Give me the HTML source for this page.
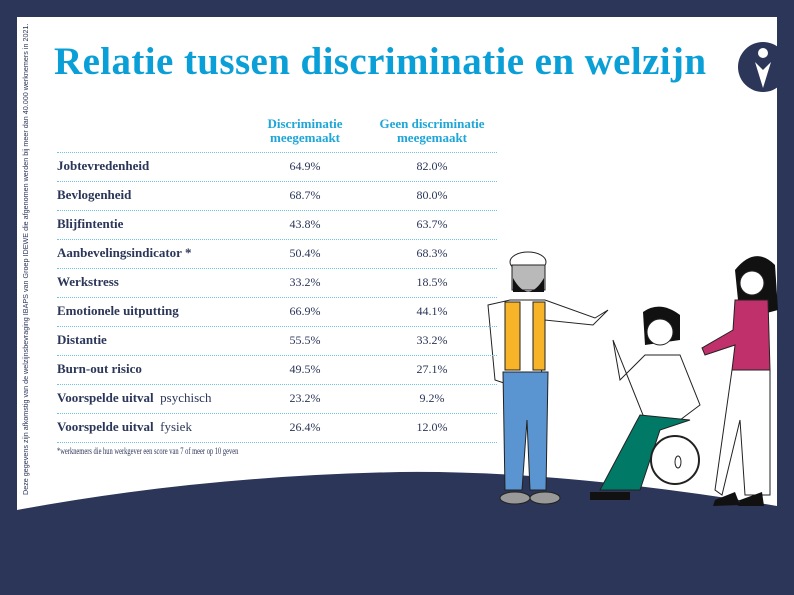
<!DOCTYPE html>
<html><head><meta charset="utf-8"><style>
body{margin:0;width:794px;height:595px;background:#2b3658;position:relative;overflow:hidden;font-family:"Liberation Serif",serif}
.t{position:absolute;white-space:nowrap}
.lab{left:57px;font-weight:bold;font-size:13px;color:#2b3658}
.v{font-size:12px;color:#2b3658;transform:translateX(-50%)}
.ln{position:absolute;left:57px;width:440px;border-top:1px dotted #6cc3e6}
</style></head><body>
<svg width="794" height="595" style="position:absolute;left:0;top:0">
<path d="M17 17 H777 V506 Q560 470 400 472 Q200 476 17 510 Z" fill="#fff"/>
<circle cx="763" cy="67" r="25" fill="#2b3658"/>
<circle cx="763" cy="53" r="5" fill="#fff"/>
<path d="M755 62 L763 88 L771 62 L763 70 Z" fill="#fff"/>
<ellipse cx="528" cy="262" rx="18" ry="10" fill="#fff" stroke="#222"/>
<rect x="512" y="265" width="33" height="25" fill="#b9b9b9" stroke="#222"/>
<path d="M513 278 Q528 305 544 278 V292 H513Z" fill="#111"/>
<path d="M488 305 L510 300 L545 300 L595 318 L608 310 L593 325 L545 320 L540 395 L495 380 Z" fill="#fff" stroke="#222"/>
<path d="M505 302 L520 302 L520 370 L505 370 Z M533 302 L545 302 L545 370 L533 370 Z" fill="#f7b428" stroke="#222"/>
<path d="M503 372 L548 372 L546 490 L530 490 L527 420 L522 490 L505 490 Z" fill="#5b95d1" stroke="#222"/>
<ellipse cx="515" cy="498" rx="15" ry="6" fill="#999" stroke="#222"/>
<ellipse cx="545" cy="498" rx="15" ry="6" fill="#999" stroke="#222"/>
<path d="M643 312 Q660 300 680 315 L680 340 L645 345 Z" fill="#111"/>
<circle cx="660" cy="332" r="13" fill="#fff" stroke="#222"/>
<path d="M613 340 L620 380 L645 355 L680 355 L700 405 L680 420 L645 420 Z" fill="#fff" stroke="#222"/>
<path d="M640 415 L690 420 L660 430 L640 490 L600 490 Z" fill="#007a66" stroke="#222"/>
<circle cx="675" cy="460" r="24" fill="#fff" stroke="#222" stroke-width="2"/>
<ellipse cx="678" cy="462" rx="3" ry="6" fill="none" stroke="#222"/>
<path d="M590 492 H630 V500 H590Z" fill="#111"/>
<path d="M735 270 Q755 245 775 265 L778 310 L740 320 Z" fill="#111"/>
<circle cx="752" cy="283" r="12" fill="#fff" stroke="#222"/>
<path d="M735 300 L768 300 L770 370 L732 370 L735 345 L705 355 L702 348 L733 330 Z" fill="#c0306a" stroke="#222"/>
<path d="M732 370 L770 370 L770 495 L745 495 L740 420 L722 495 L715 490 Z" fill="#fff" stroke="#222"/>
<path d="M715 500 L735 492 L740 505 L713 506Z M740 500 L762 492 L764 506 L738 506Z" fill="#111"/>
</svg>
<div class="t" style="left:21px;top:495px;transform:rotate(-90deg);transform-origin:0 0;font-family:'Liberation Sans',sans-serif;font-size:7.2px;color:#2b3658">Deze gegevens zijn afkomstig van de welzijnsbevraging IBAPS van Groep IDEWE die afgenomen werden bij meer dan 40.000 werknemers in 2021.</div>
<div class="t" style="left:54px;top:39px;font-size:39px;font-weight:bold;color:#0a9fd6;letter-spacing:0.4px">Relatie tussen discriminatie en welzijn</div>
<div class="t" style="left:305px;top:117px;transform:translateX(-50%);text-align:center;font-size:13px;font-weight:bold;color:#1fa6d8;line-height:14px">Discriminatie<br>meegemaakt</div>
<div class="t" style="left:432px;top:117px;transform:translateX(-50%);text-align:center;font-size:13px;font-weight:bold;color:#1fa6d8;line-height:14px">Geen discriminatie<br>meegemaakt</div>
<div class="ln" style="top:152px"></div>
<div class="t lab" style="top:158px">Jobtevredenheid</div><div class="t v" style="left:305px;top:159px">64.9%</div><div class="t v" style="left:432px;top:159px">82.0%</div>
<div class="ln" style="top:181px"></div>
<div class="t lab" style="top:187px">Bevlogenheid</div><div class="t v" style="left:305px;top:188px">68.7%</div><div class="t v" style="left:432px;top:188px">80.0%</div>
<div class="ln" style="top:210px"></div>
<div class="t lab" style="top:216px">Blijfintentie</div><div class="t v" style="left:305px;top:217px">43.8%</div><div class="t v" style="left:432px;top:217px">63.7%</div>
<div class="ln" style="top:239px"></div>
<div class="t lab" style="top:245px">Aanbevelingsindicator *</div><div class="t v" style="left:305px;top:246px">50.4%</div><div class="t v" style="left:432px;top:246px">68.3%</div>
<div class="ln" style="top:268px"></div>
<div class="t lab" style="top:274px">Werkstress</div><div class="t v" style="left:305px;top:275px">33.2%</div><div class="t v" style="left:432px;top:275px">18.5%</div>
<div class="ln" style="top:297px"></div>
<div class="t lab" style="top:303px">Emotionele uitputting</div><div class="t v" style="left:305px;top:304px">66.9%</div><div class="t v" style="left:432px;top:304px">44.1%</div>
<div class="ln" style="top:326px"></div>
<div class="t lab" style="top:332px">Distantie</div><div class="t v" style="left:305px;top:333px">55.5%</div><div class="t v" style="left:432px;top:333px">33.2%</div>
<div class="ln" style="top:355px"></div>
<div class="t lab" style="top:361px">Burn-out risico</div><div class="t v" style="left:305px;top:362px">49.5%</div><div class="t v" style="left:432px;top:362px">27.1%</div>
<div class="ln" style="top:384px"></div>
<div class="t lab" style="top:390px">Voorspelde uitval <span style="font-weight:normal">&nbsp;psychisch</span></div><div class="t v" style="left:305px;top:391px">23.2%</div><div class="t v" style="left:432px;top:391px">9.2%</div>
<div class="ln" style="top:413px"></div>
<div class="t lab" style="top:419px">Voorspelde uitval <span style="font-weight:normal">&nbsp;fysiek</span></div><div class="t v" style="left:305px;top:420px">26.4%</div><div class="t v" style="left:432px;top:420px">12.0%</div>
<div class="ln" style="top:442px"></div>
<div class="t" style="left:57px;top:446px;font-size:9px;color:#2b3658;transform:scaleX(0.72);transform-origin:0 0">*werknemers die hun werkgever een score van 7 of meer op 10 geven</div>
</body></html>
